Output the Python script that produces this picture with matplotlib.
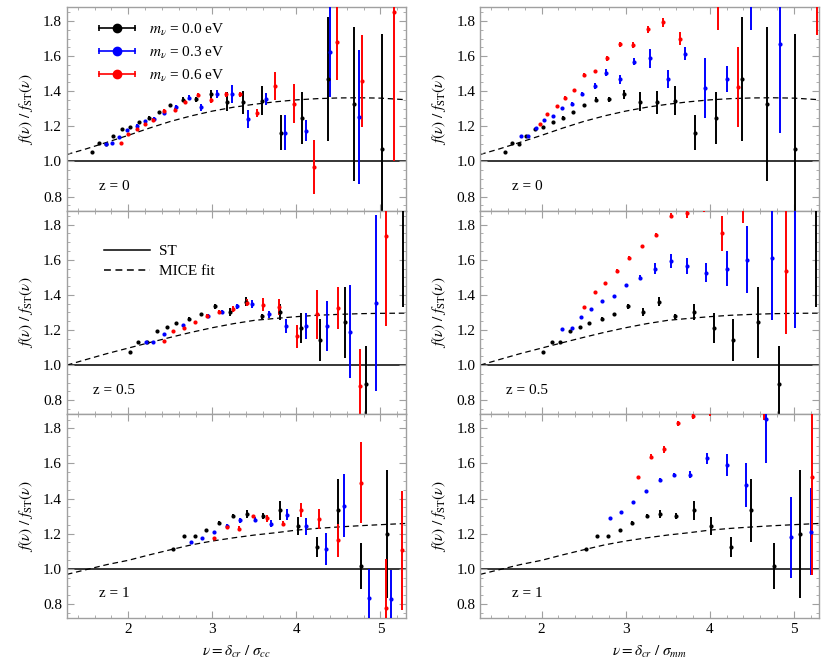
import matplotlib
matplotlib.use("Agg")
import matplotlib.pyplot as plt
from matplotlib.lines import Line2D
from matplotlib.legend_handler import HandlerLine2D, HandlerTuple
from matplotlib.ticker import MultipleLocator

plt.rcParams["font.family"] = "serif"
plt.rcParams["font.serif"] = ["Liberation Serif", "DejaVu Serif"]
plt.rcParams["mathtext.fontset"] = "stix"

# ── m_nu = 0.0 eV (same in both columns, sigma_cc = sigma_mm) ────────────────
nu_z0_m00 = [1.57, 1.65, 1.73, 1.82, 1.92, 2.02, 2.13, 2.25, 2.37, 2.50, 2.65,
             2.80, 2.98, 3.17, 3.37, 3.59, 3.82, 4.07, 4.38, 4.68, 5.02]
f_z0_m00 = [1.053, 1.105, 1.097, 1.143, 1.185, 1.196, 1.223, 1.250, 1.280, 1.319, 1.353,
            1.354, 1.382, 1.340, 1.337, 1.345, 1.163, 1.248, 1.470, 1.328, 1.069]
e_z0_m00 = [0.004, 0.004, 0.004, 0.005, 0.006, 0.007, 0.007, 0.008, 0.010, 0.011, 0.012,
            0.013, 0.025, 0.055, 0.065, 0.083, 0.100, 0.148, 0.352, 0.440, 0.660]

nu_z05_m00 = [2.02, 2.12, 2.22, 2.34, 2.46, 2.57, 2.72, 2.86, 3.03, 3.21, 3.40, 3.59,
              3.81, 4.05, 4.28, 4.58, 4.83, 5.27]
f_z05_m00 = [1.077, 1.133, 1.133, 1.192, 1.217, 1.240, 1.263, 1.289, 1.334, 1.303, 1.362, 1.279,
             1.303, 1.210, 1.142, 1.243, 0.891, 2.100]
e_z05_m00 = [0.004, 0.005, 0.005, 0.006, 0.007, 0.008, 0.010, 0.010, 0.013, 0.025, 0.027, 0.015,
             0.045, 0.085, 0.120, 0.200, 0.220, 0.770]

nu_z1_m00 = [2.53, 2.66, 2.79, 2.93, 3.08, 3.25, 3.41, 3.60, 3.81, 4.02, 4.25, 4.49, 4.77, 5.08]
f_z1_m00 = [1.114, 1.184, 1.184, 1.221, 1.262, 1.300, 1.312, 1.300, 1.332, 1.243, 1.125, 1.332,
            1.015, 1.200]
e_z1_m00 = [0.004, 0.005, 0.006, 0.007, 0.010, 0.012, 0.025, 0.015, 0.055, 0.050, 0.057, 0.180,
            0.130, 0.365]

# ── left column: nu = delta_cr / sigma_cc ────────────────────────────────────
nu_cc_z0_m03 = [1.73, 1.81, 1.89, 1.99, 2.10, 2.20, 2.31, 2.42, 2.57, 2.72, 2.87, 3.05, 3.23,
                3.43, 3.64, 3.86, 4.12, 4.40, 4.75]
f_cc_z0_m03 = [1.101, 1.105, 1.139, 1.177, 1.205, 1.230, 1.244, 1.276, 1.310, 1.364, 1.310, 1.383,
               1.383, 1.242, 1.354, 1.164, 1.176, 1.625, 1.253]
e_cc_z0_m03 = [0.004, 0.004, 0.005, 0.006, 0.007, 0.008, 0.009, 0.010, 0.012, 0.012, 0.020, 0.022,
               0.050, 0.050, 0.035, 0.100, 0.060, 0.260, 0.380]

nu_cc_z0_m06 = [1.91, 2.00, 2.10, 2.20, 2.30, 2.42, 2.55, 2.68, 2.83, 2.99, 3.16, 3.33, 3.53,
                3.74, 3.97, 4.21, 4.48, 4.78, 5.16]
f_cc_z0_m06 = [1.107, 1.158, 1.187, 1.215, 1.238, 1.290, 1.295, 1.337, 1.377, 1.349, 1.383, 1.383,
               1.276, 1.430, 1.330, 0.968, 1.682, 1.459, 1.853]
e_cc_z0_m06 = [0.004, 0.005, 0.006, 0.007, 0.008, 0.009, 0.010, 0.012, 0.012, 0.015, 0.015, 0.015,
               0.025, 0.080, 0.110, 0.155, 0.220, 0.260, 0.850]

nu_cc_z05_m03 = [2.21, 2.30, 2.42, 2.65, 2.95, 3.12, 3.29, 3.47, 3.67, 3.88, 4.11, 4.36, 4.64, 4.95]
f_cc_z05_m03 = [1.133, 1.130, 1.177, 1.230, 1.281, 1.304, 1.335, 1.348, 1.290, 1.223, 1.223, 1.223,
                1.190, 1.354]
e_cc_z05_m03 = [0.004, 0.004, 0.005, 0.007, 0.010, 0.012, 0.015, 0.025, 0.020, 0.040, 0.075, 0.140,
                0.265, 0.500]

nu_cc_z05_m06 = [2.42, 2.53, 2.66, 2.79, 2.94, 3.08, 3.25, 3.41, 3.60, 3.79, 4.01, 4.24, 4.49,
                 4.76, 5.07]
f_cc_z05_m06 = [1.135, 1.192, 1.210, 1.245, 1.280, 1.304, 1.320, 1.356, 1.345, 1.330, 1.165, 1.290,
                1.323, 0.880, 1.733]
e_cc_z05_m06 = [0.004, 0.006, 0.007, 0.008, 0.010, 0.010, 0.015, 0.020, 0.035, 0.045, 0.065, 0.140,
                0.120, 0.210, 0.510]

nu_cc_z1_m03 = [2.75, 2.88, 3.02, 3.18, 3.33, 3.51, 3.70, 3.89, 4.11, 4.35, 4.57, 4.86, 5.12]
f_cc_z1_m03 = [1.155, 1.176, 1.208, 1.246, 1.275, 1.279, 1.256, 1.309, 1.241, 1.114, 1.360, 0.835,
               0.825]
e_cc_z1_m03 = [0.005, 0.006, 0.007, 0.008, 0.012, 0.015, 0.020, 0.030, 0.050, 0.090, 0.180, 0.165,
               0.170]

nu_cc_z1_m06 = [3.02, 3.18, 3.32, 3.48, 3.65, 3.84, 4.05, 4.27, 4.49, 4.77, 5.06, 5.26]
f_cc_z1_m06 = [1.174, 1.237, 1.228, 1.298, 1.288, 1.256, 1.332, 1.284, 1.161, 1.490, 0.776, 1.104]
e_cc_z1_m06 = [0.005, 0.012, 0.015, 0.010, 0.020, 0.015, 0.040, 0.055, 0.095, 0.230, 0.280, 0.340]

# ── right column: nu = delta_cr / sigma_mm ───────────────────────────────────
nu_mm_z0_m03 = [1.75, 1.84, 1.93, 2.03, 2.13, 2.24, 2.36, 2.48, 2.63, 2.77, 2.93, 3.10, 3.29,
                3.50, 3.71, 3.94, 4.20, 4.49, 4.84]
f_mm_z0_m03 = [1.143, 1.147, 1.189, 1.238, 1.257, 1.303, 1.330, 1.383, 1.430, 1.505, 1.469, 1.568,
               1.587, 1.469, 1.615, 1.418, 1.470, 2.050, 1.672]
e_mm_z0_m03 = [0.004, 0.004, 0.005, 0.006, 0.007, 0.008, 0.010, 0.012, 0.015, 0.020, 0.025, 0.020,
               0.055, 0.050, 0.035, 0.170, 0.074, 0.300, 0.510]

nu_mm_z0_m06 = [1.98, 2.07, 2.18, 2.28, 2.39, 2.51, 2.64, 2.78, 2.93, 3.09, 3.27, 3.45, 3.65,
                3.86, 4.10, 4.34, 5.28]
f_mm_z0_m06 = [1.211, 1.272, 1.318, 1.364, 1.406, 1.493, 1.514, 1.587, 1.667, 1.663, 1.752, 1.792,
               1.700, 1.900, 1.950, 1.425, 2.300]
e_mm_z0_m06 = [0.004, 0.005, 0.006, 0.007, 0.008, 0.010, 0.010, 0.015, 0.015, 0.015, 0.020, 0.025,
               0.035, 0.020, 0.200, 0.230, 0.580]

nu_mm_z05_m03 = [2.24, 2.36, 2.47, 2.59, 2.72, 2.86, 3.01, 3.17, 3.35, 3.54, 3.73, 3.96, 4.20,
                 4.44, 4.74, 5.02]
f_mm_z05_m03 = [1.208, 1.213, 1.275, 1.319, 1.363, 1.392, 1.454, 1.498, 1.550, 1.594, 1.565, 1.525,
                1.550, 1.600, 1.610, 1.900]
e_mm_z05_m03 = [0.004, 0.004, 0.005, 0.006, 0.007, 0.008, 0.010, 0.015, 0.030, 0.040, 0.045, 0.054,
                0.100, 0.190, 0.355, 0.690]

nu_mm_z05_m06 = [2.51, 2.64, 2.76, 2.90, 3.04, 3.20, 3.36, 3.54, 3.73, 3.93, 4.15, 4.40, 4.91]
f_mm_z05_m06 = [1.329, 1.419, 1.469, 1.537, 1.612, 1.679, 1.742, 1.852, 1.867, 1.900, 1.752, 1.950,
                1.535]
e_mm_z05_m06 = [0.004, 0.005, 0.006, 0.008, 0.010, 0.008, 0.012, 0.012, 0.030, 0.030, 0.100, 0.140,
                0.360]

nu_mm_z1_m03 = [2.81, 2.94, 3.09, 3.24, 3.41, 3.58, 3.77, 3.97, 4.20, 4.43, 4.67, 4.97, 5.21]
f_mm_z1_m03 = [1.290, 1.326, 1.379, 1.444, 1.508, 1.536, 1.536, 1.629, 1.591, 1.478, 1.853, 1.180,
               1.212]
e_mm_z1_m03 = [0.004, 0.005, 0.006, 0.007, 0.010, 0.012, 0.018, 0.030, 0.060, 0.125, 0.250, 0.230,
               0.250]

nu_mm_z1_m06 = [3.15, 3.30, 3.46, 3.62, 3.80, 4.00, 4.65, 5.22]
f_mm_z1_m06 = [1.525, 1.639, 1.682, 1.828, 1.872, 1.900, 1.950, 1.525]
e_mm_z1_m06 = [0.006, 0.012, 0.020, 0.012, 0.020, 0.030, 0.100, 0.560]

# ── MICE fit / ST ratio ──────────────────────────────────────────────────────
fit_nu = [1.27, 1.5, 1.75, 2.0, 2.25, 2.5, 2.75, 3.0, 3.25, 3.5, 3.75, 4.0, 4.25, 4.5, 4.75, 5.0, 5.3]
fit_z0 = [1.040, 1.072, 1.110, 1.149, 1.190, 1.228, 1.260, 1.287, 1.309, 1.326, 1.340, 1.351,
          1.358, 1.362, 1.363, 1.361, 1.352]
fit_z05 = [1.000, 1.032, 1.066, 1.097, 1.128, 1.158, 1.187, 1.213, 1.236, 1.255, 1.266, 1.276,
           1.284, 1.289, 1.293, 1.295, 1.296]
fit_z1 = [0.968, 0.995, 1.024, 1.048, 1.079, 1.108, 1.136, 1.158, 1.176, 1.192, 1.205, 1.220,
          1.230, 1.238, 1.245, 1.251, 1.258]

mass_labels = [r"$m_{\nu}$ = 0.0 eV", r"$m_{\nu}$ = 0.3 eV", r"$m_{\nu}$ = 0.6 eV"]
z_labels = ["z = 0", "z = 0.5", "z = 1"]

COLORS = ["black", "#0000ff", "#ff0000"]
FRAME = "#a0a0a0"

panels = {
    (0, 0): (fit_z0, [(nu_z0_m00, f_z0_m00, e_z0_m00), (nu_cc_z0_m03, f_cc_z0_m03, e_cc_z0_m03),
                      (nu_cc_z0_m06, f_cc_z0_m06, e_cc_z0_m06)]),
    (1, 0): (fit_z05, [(nu_z05_m00, f_z05_m00, e_z05_m00), (nu_cc_z05_m03, f_cc_z05_m03, e_cc_z05_m03),
                       (nu_cc_z05_m06, f_cc_z05_m06, e_cc_z05_m06)]),
    (2, 0): (fit_z1, [(nu_z1_m00, f_z1_m00, e_z1_m00), (nu_cc_z1_m03, f_cc_z1_m03, e_cc_z1_m03),
                      (nu_cc_z1_m06, f_cc_z1_m06, e_cc_z1_m06)]),
    (0, 1): (fit_z0, [(nu_z0_m00, f_z0_m00, e_z0_m00), (nu_mm_z0_m03, f_mm_z0_m03, e_mm_z0_m03),
                      (nu_mm_z0_m06, f_mm_z0_m06, e_mm_z0_m06)]),
    (1, 1): (fit_z05, [(nu_z05_m00, f_z05_m00, e_z05_m00), (nu_mm_z05_m03, f_mm_z05_m03, e_mm_z05_m03),
                       (nu_mm_z05_m06, f_mm_z05_m06, e_mm_z05_m06)]),
    (2, 1): (fit_z1, [(nu_z1_m00, f_z1_m00, e_z1_m00), (nu_mm_z1_m03, f_mm_z1_m03, e_mm_z1_m03),
                      (nu_mm_z1_m06, f_mm_z1_m06, e_mm_z1_m06)]),
}

fig, axes = plt.subplots(3, 2, figsize=(8.26, 6.68), dpi=100)
fig.subplots_adjust(left=0.081, right=0.9915, bottom=0.075, top=0.9895, hspace=0, wspace=0.22)

for (row, col), (fit, series) in panels.items():
    ax = axes[row, col]
    ax.axhline(1.0, color="black", lw=1.1, zorder=1)
    ax.plot(fit_nu, fit, color="black", lw=0.9, ls=(0, (4.5, 3)), zorder=1)
    for (nu, f, err), c in zip(series, COLORS):
        ax.errorbar(nu, f, yerr=err, fmt="o", ms=3, mew=0, color=c, ecolor=c,
                    elinewidth=1.4, capsize=2.2, capthick=1.3, zorder=3)

    ax.set_xlim(1.27, 5.3)
    ax.set_ylim(0.72, 1.88)
    ax.xaxis.set_major_locator(MultipleLocator(1))
    ax.xaxis.set_minor_locator(MultipleLocator(0.2))
    ax.yaxis.set_major_locator(MultipleLocator(0.2))
    ax.yaxis.set_minor_locator(MultipleLocator(0.05))
    ax.tick_params(which="both", direction="in", top=True, right=True, color=FRAME,
                   labelsize=11)
    ax.tick_params(which="major", length=5)
    ax.tick_params(which="minor", length=2.5)
    for sp in ax.spines.values():
        sp.set_color(FRAME)
        sp.set_linewidth(1.0)
    if row < 2:
        ax.tick_params(labelbottom=False)
    ax.set_ylabel(r"$f(\nu)\ /\ f_{\mathrm{ST}}(\nu)$", fontsize=11, labelpad=6)
    zx = 0.077 if row == 1 else 0.094
    ax.text(zx, 0.118, z_labels[row], transform=ax.transAxes, fontsize=11,
            ha="left", va="center")

axes[2, 0].set_xlabel(r"$\nu = \delta_{cr}\ /\ \sigma_{cc}$", fontsize=11, labelpad=6)
axes[2, 1].set_xlabel(r"$\nu = \delta_{cr}\ /\ \sigma_{mm}$", fontsize=11, labelpad=6)

# mass legend with horizontal error-bar style handles
handles = []
hmap = {}
for c in COLORS:
    bar = Line2D([], [], color=c, lw=1.2, marker="|", ms=5, mew=1.2)
    dot = Line2D([], [], color=c, ls="none", marker="o", ms=6)
    hmap[bar] = HandlerLine2D(numpoints=2)
    hmap[dot] = HandlerLine2D(numpoints=1)
    handles.append((bar, dot))
hmap[tuple] = HandlerTuple(ndivide=1, pad=0)
axes[0, 0].legend(handles, mass_labels, handler_map=hmap, loc="upper left",
                  bbox_to_anchor=(0.04, 0.995), frameon=False, fontsize=11,
                  handlelength=3.0, labelspacing=0.45, handletextpad=0.6)

st_handles = [Line2D([], [], color="black", lw=1.1),
              Line2D([], [], color="black", lw=1.1, ls=(0, (4.5, 3)))]
axes[1, 0].legend(st_handles, ["ST", "MICE fit"], loc="upper left",
                  bbox_to_anchor=(0.07, 0.9), frameon=False, fontsize=11,
                  handlelength=3.0, labelspacing=0.4, handletextpad=0.6)

fig.savefig("out.png", dpi=100)
plt.close(fig)
